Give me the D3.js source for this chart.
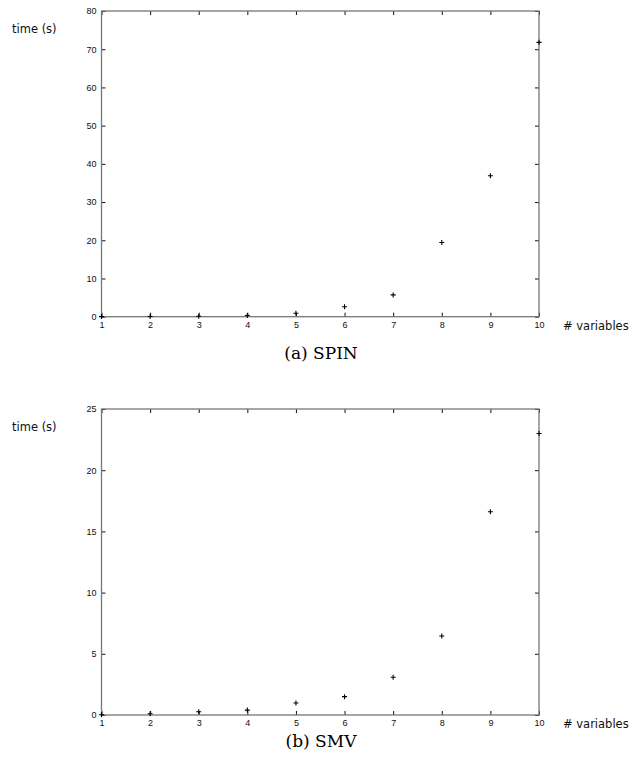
<!DOCTYPE html>
<html>
<head>
<meta charset="utf-8">
<script src="https://cdn.jsdelivr.net/npm/d3@7"></script>
<style>
  body { margin: 0; background: #fff; }
  .tick text { font-family: "Liberation Sans", Arial, sans-serif; font-size: 9px; fill: #111; }
</style>
</head>
<body>
<script>
var width = 638, height = 772;

// data
var nVars = [1, 2, 3, 4, 5, 6, 7, 8, 9, 10];
var spinTimes = [0.02, 0.05, 0.1, 0.3, 0.9, 2.6, 5.7, 19.4, 36.9, 71.8];
var smvTimes = [0.02, 0.1, 0.27, 0.4, 0.98, 1.5, 3.08, 6.45, 16.6, 23.0];
var spinTicks = [0, 10, 20, 30, 40, 50, 60, 70, 80];
var smvTicks = [0, 5, 10, 15, 20, 25];

var svg = d3.select("body")
    .append("svg")
    .attr("width", width)
    .attr("height", height);

var panels = [
  { top: 11, bottom: 316.7, ymax: 80, ticks: spinTicks, values: spinTimes, caption: "(a) SPIN", capY: 359 },
  { top: 409, bottom: 715, ymax: 25, ticks: smvTicks, values: smvTimes, caption: "(b) SMV", capY: 747 }
];

var left = 101.5, right = 539;

panels.forEach(function(p) {
  var x = d3.scaleLinear().domain([1, 10]).range([left, right]);
  var y = d3.scaleLinear().domain([0, p.ymax]).range([p.bottom, p.top]);

  var g = svg.append("g");

  // inward ticks on all four sides
  g.append("g")
      .attr("transform", "translate(0," + p.bottom + ")")
      .call(d3.axisBottom(x).tickValues(nVars).tickSize(-4).tickPadding(5).tickFormat(d3.format("d")))
      .call(function(s) { s.select(".domain").remove(); });
  g.append("g")
      .attr("transform", "translate(0," + p.top + ")")
      .call(d3.axisTop(x).tickValues(nVars).tickSize(-4).tickFormat(""))
      .call(function(s) { s.select(".domain").remove(); });
  g.append("g")
      .attr("transform", "translate(" + left + ",0)")
      .call(d3.axisLeft(y).tickValues(p.ticks).tickSize(-4).tickPadding(5))
      .call(function(s) { s.select(".domain").remove(); });
  g.append("g")
      .attr("transform", "translate(" + right + ",0)")
      .call(d3.axisRight(y).tickValues(p.ticks).tickSize(-4).tickFormat(""))
      .call(function(s) { s.select(".domain").remove(); });

  g.selectAll(".tick line").attr("stroke", "#111").attr("stroke-width", 1);

  // frame
  g.append("rect")
      .attr("x", left)
      .attr("y", p.top)
      .attr("width", right - left)
      .attr("height", p.bottom - p.top)
      .attr("fill", "none")
      .attr("stroke", "#777")
      .attr("stroke-width", 1.3);

  // plus markers
  g.selectAll(".pt")
    .data(nVars)
    .enter().append("path")
      .attr("class", "pt")
      .attr("d", function(d, i) {
        var cx = x(d), cy = y(p.values[i]), r = 2.5;
        return "M" + (cx - r) + "," + cy + "H" + (cx + r) + "M" + cx + "," + (cy - r) + "V" + (cy + r);
      })
      .attr("stroke", "#000")
      .attr("stroke-width", 1.1);

  g.append("text")
      .attr("x", 12)
      .attr("y", p.top + 22)
      .attr("font-family", "'DejaVu Sans', sans-serif")
      .attr("font-size", 11.5)
      .attr("fill", "#111")
      .text("time (s)");

  g.append("text")
      .attr("x", 563)
      .attr("y", p.bottom + 13)
      .attr("font-family", "'DejaVu Sans', sans-serif")
      .attr("font-size", 11.5)
      .attr("fill", "#111")
      .text("# variables");

  g.append("text")
      .attr("x", 321)
      .attr("y", p.capY)
      .attr("text-anchor", "middle")
      .attr("font-family", "'DejaVu Serif', 'Liberation Serif', serif")
      .attr("font-size", 17)
      .attr("fill", "#000")
      .text(p.caption);
});
</script>
</body>
</html>
